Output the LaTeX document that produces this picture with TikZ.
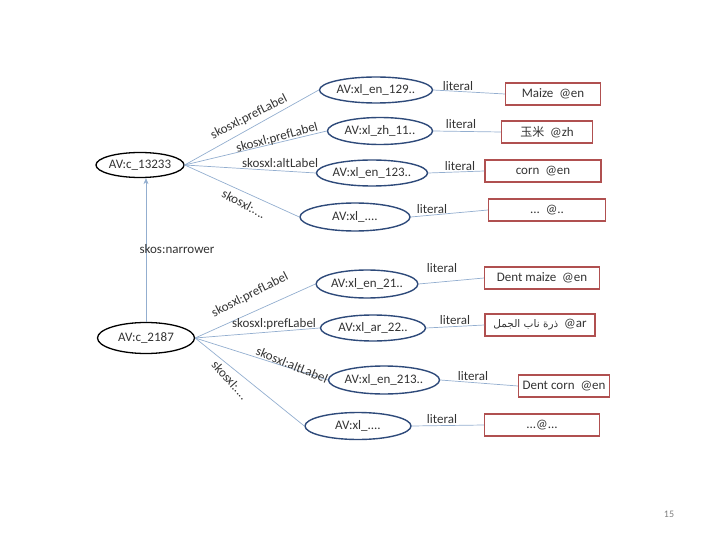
\documentclass[tikz,border=0pt]{standalone}
\usepackage{fontspec}
\setmainfont{Carlito}
\newfontfamily\cjk{Noto Sans CJK SC}
\newfontfamily\arabicfont[Script=Arabic]{DejaVu Sans}
\TeXXeTstate=1
\usetikzlibrary{shapes.geometric,arrows.meta}
\definecolor{navy}{HTML}{2E4A7A}
\definecolor{litred}{HTML}{B05050}
\definecolor{edgeblue}{HTML}{93AECF}
\definecolor{txt}{HTML}{333333}
\begin{document}
\begin{tikzpicture}[x=1pt,y=-1pt,
  every node/.style={font=\fontsize{13}{15}\selectfont, text=txt},
  concept/.style={ellipse, draw=black, line width=1.3pt, inner sep=0pt},
  xlnode/.style={ellipse, draw=navy, line width=1.4pt, inner sep=0pt},
  litbox/.style={rectangle, draw=litred, line width=1.1pt, inner sep=0pt, minimum height=22},
  edge/.style={draw=edgeblue, line width=0.7pt},
  lab/.style={inner sep=1pt}]
\useasboundingbox (0,0) rectangle (720,540);

% concepts
\node[concept, minimum width=84, minimum height=25] (c1) at (140,165) {AV:c\_13233};
\node[concept, minimum width=97, minimum height=31] (c2) at (146,338) {AV:c\_2187};

% labels (xl)
\node[xlnode, minimum width=113, minimum height=26] (e1) at (376,90) {AV:xl\_en\_129..};
\node[xlnode, minimum width=105, minimum height=27] (e2) at (380,131) {AV:xl\_zh\_11..};
\node[xlnode, minimum width=109, minimum height=26] (e3) at (372,173) {AV:xl\_en\_123..};
\node[xlnode, minimum width=110, minimum height=28] (e4) at (355,217) {AV:xl\_....};
\node[xlnode, minimum width=97, minimum height=28] (e5) at (367,284) {AV:xl\_en\_21..};
\node[xlnode, minimum width=105, minimum height=26] (e6) at (373,328) {AV:xl\_ar\_22..};
\node[xlnode, minimum width=108, minimum height=28] (e7) at (384,380) {AV:xl\_en\_213..};
\node[xlnode, minimum width=106, minimum height=27] (e8) at (358,426) {AV:xl\_....};

% literals
\node[litbox, minimum width=95] (r1) at (553,94) {Maize\ \ @en};
\node[litbox, minimum width=91] (r2) at (547,132) {{\cjk\fontsize{12}{14}\selectfont 玉米}\ \ @zh};
\node[litbox, minimum width=116] (r3) at (543,171) {corn\ \ @en};
\node[litbox, minimum width=117] (r4) at (547,210) {...\ \ @..};
\node[litbox, minimum width=115] (r5) at (542,278) {Dent maize\ \ @en};
\node[litbox, minimum width=110] (r6) at (540,325) {{\arabicfont\fontsize{10.5}{12}\selectfont\beginR ذرة ناب الجمل\endR}\ \ @ar};
\node[litbox, minimum width=91] (r7) at (564,386) {Dent corn\ \ @en};
\node[litbox, minimum width=115] (r8) at (542,425) {...@...};

% edges from concepts
\foreach \e in {e1,e2,e3,e4} \draw[edge] (c1.east) -- (\e.west);
\foreach \e in {e5,e6,e7,e8} \draw[edge] (c2.east) -- (\e.west);
\draw[edge, -{Stealth[length=6pt,width=5pt]}] (c2.north) -- (c2.north |- c1.south);

% literal edges
\draw[edge] (e1.east) -- (r1.west);
\draw[edge] (e2.east) -- (r2.west);
\draw[edge] (e3.east) -- (r3.west);
\draw[edge] (e4.east) -- (r4.west);
\draw[edge] (e5.east) -- (r5.west);
\draw[edge] (e6.east) -- (r6.west);
\draw[edge] (e7.east) -- (r7.west);
\draw[edge] (e8.east) -- (r8.west);

% edge labels
\node[lab, rotate=27] (l1) at (249,117) {skosxl:prefLabel};
\node[lab, rotate=15] (l2) at (277,138) {skosxl:prefLabel};
\node[lab] (l3) at (280,163) {skosxl:altLabel};
\node[lab, rotate=-28] (l4) at (244,204) {skosxl:....};
\node[lab] (l5) at (177,249) {skos:narrower};
\node[lab, rotate=27] (l6) at (250,295) {skosxl:prefLabel};
\node[lab] (l7) at (274,324) {skosxl:prefLabel};
\node[lab, rotate=-22] (l8) at (292,365) {skosxl:altLabel};
\node[lab, rotate=-48] (l9) at (230,380) {skosxl:....};

\node[lab] (m1) at (458,86) {literal};
\node[lab] (m2) at (461,124) {literal};
\node[lab] (m3) at (460,166) {literal};
\node[lab] (m4) at (432,209) {literal};
\node[lab] (m5) at (442,268) {literal};
\node[lab] (m6) at (455,320) {literal};
\node[lab] (m7) at (473,376) {literal};
\node[lab] (m8) at (442,419) {literal};

\node[text=gray, font=\fontsize{10}{12}\selectfont] (pg) at (669,514) {15};
\end{tikzpicture}
\end{document}
